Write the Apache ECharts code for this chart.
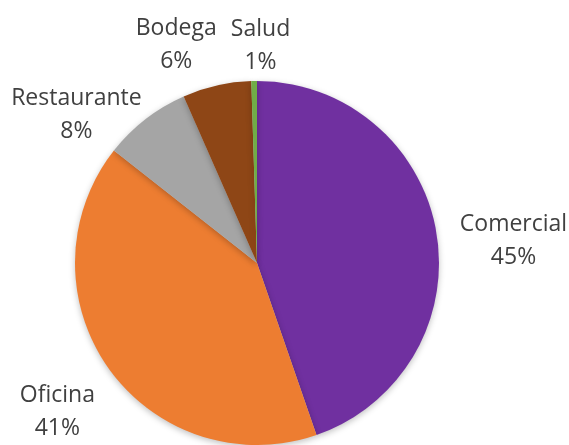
<!DOCTYPE html>
<html>
<head>
<meta charset="utf-8">
<script src="https://cdn.jsdelivr.net/npm/echarts@6/dist/echarts.min.js"></script>
<style>
  html, body { margin: 0; padding: 0; background: #fff; }
  #main { width: 569px; height: 445px; }
</style>
</head>
<body>
<div id="main"></div>
<script>
// datos del gráfico
var categorias = ['Comercial', 'Oficina', 'Restaurante', 'Bodega', 'Salud'];
var valores = [44.7, 40.9, 7.8, 6.1, 0.5];
var colores = ['#7030A0', '#ED7D31', '#A5A5A5', '#8E4616', '#70AD47'];
// distancia de cada etiqueta al borde y pequeño ajuste (como en Excel)
var distEtiqueta = [72, 68, 62, 52, 40];
var ajusteEtiqueta = [[6, 20], [4, 4], [-31, 45], [-29, 10], [7, 5]];

var total = valores.reduce(function (a, b) { return a + b; }, 0);

var myChart = echarts.init(document.getElementById('main'));

myChart.setOption({
  animation: false,
  series: [{
    type: 'pie',
    center: [257, 263],
    radius: 182,
    startAngle: 90,
    clockwise: true,
    avoidLabelOverlap: false,
    data: categorias.map(function (c, i) {
      return {
        name: c,
        value: valores[i],
        itemStyle: { color: colores[i] },
        labelLine: { length: distEtiqueta[i] }
      };
    }),
    itemStyle: {
      borderWidth: 0,
      shadowBlur: 6,
      shadowColor: 'rgba(0,0,0,0.25)',
      shadowOffsetY: 2
    },
    label: {
      show: true,
      position: 'outside',
      distanceToLabelLine: 0,
      fontFamily: 'Open Sans',
      fontSize: 23,
      lineHeight: 33,
      color: '#404040',
      formatter: function (p) {
        return p.name + '\n' + Math.round(p.value / total * 100) + '%';
      }
    },
    labelLine: { show: false, length2: 0 },
    labelLayout: function (params) {
      var a = ajusteEtiqueta[params.dataIndex];
      return { align: 'center', dx: a[0], dy: a[1] };
    }
  }]
});
</script>
</body>
</html>
